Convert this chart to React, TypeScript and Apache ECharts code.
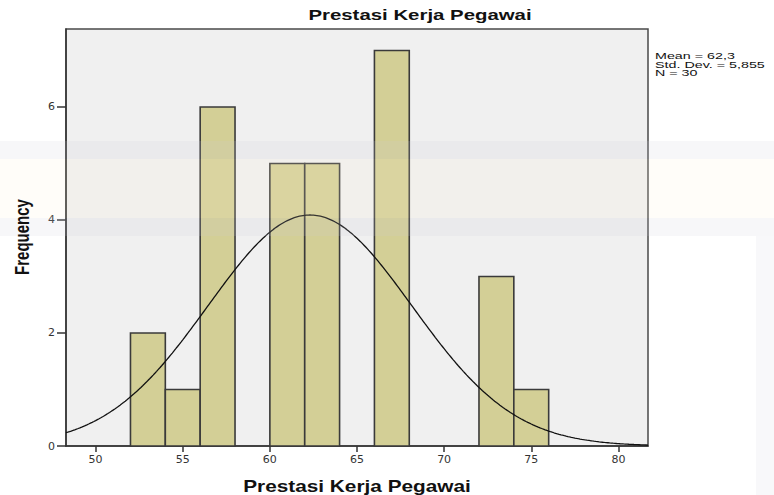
import React, { useEffect, useRef } from "react";
import * as echarts from "echarts";

const chartTitle = "Prestasi Kerja Pegawai";
const xAxisName = "Prestasi Kerja Pegawai";
const yAxisName = "Frequency";
const binStarts = [52, 54, 56, 58, 60, 62, 64, 66, 68, 70, 72, 74];
const binWidth = 2;
const frequencies = [2, 1, 6, 0, 5, 5, 0, 7, 0, 0, 3, 1];
const xTicks = [50, 55, 60, 65, 70, 75, 80];
const yTicks = [0, 2, 4, 6];
const mean = 62.3;
const stdDev = 5.855;
const nCount = 30;
const statLines = ["Mean = 62,3", "Std. Dev. = 5,855", "N = 30"];
const xMin = 48.3;
const xMax = 81.7;
const yMax = 7.38;

export default function App() {
  const ref = useRef<HTMLDivElement>(null);
  useEffect(() => {
    if (!ref.current) return;
    const chart = echarts.init(ref.current, null, { renderer: "svg" });

    const bars = binStarts
      .map((s, i) => [s, s + binWidth, frequencies[i]])
      .filter((d) => d[2] > 0);

    const curve: number[][] = [];
    const scale = (nCount * binWidth) / (stdDev * Math.sqrt(2 * Math.PI));
    for (let k = 0; k <= 334; k++) {
      const x = xMin + k * 0.1;
      const z = (x - mean) / stdDev;
      curve.push([x, scale * Math.exp(-0.5 * z * z)]);
    }

    const bandFill = "rgba(205,205,220,0.16)";
    chart.setOption({
      animation: false,
      backgroundColor: "#ffffff",
      grid: {
        left: 66,
        top: 29,
        right: 126,
        bottom: 49,
        show: true,
        backgroundColor: "#f0f0f0",
        borderColor: "#4a4a4a",
        borderWidth: 1.5,
      },
      xAxis: {
        type: "value",
        min: xMin,
        max: xMax,
        splitLine: { show: false },
        axisLine: { show: true, onZero: false, lineStyle: { color: "#333", width: 1.5 } },
        axisTick: { show: true, length: 6, customValues: xTicks, lineStyle: { color: "#333", width: 1.5 } },
        axisLabel: {
          customValues: xTicks,
          margin: 8,
          color: "#333",
          fontFamily: "DejaVu Sans",
          fontSize: 11,
        },
      },
      yAxis: {
        type: "value",
        min: 0,
        max: yMax,
        splitLine: { show: false },
        axisLine: { show: true, lineStyle: { color: "#333", width: 1.5 } },
        axisTick: { show: true, length: 9, customValues: yTicks, lineStyle: { color: "#333", width: 1.5 } },
        axisLabel: {
          customValues: yTicks,
          margin: 11,
          color: "#333",
          fontFamily: "DejaVu Sans",
          fontSize: 11,
        },
      },
      series: [
        {
          type: "custom",
          data: bars,
          encode: { x: [0, 1], y: 2 },
          z: 2,
          renderItem: (params: any, api: any) => {
            const p0 = api.coord([api.value(0), api.value(2)]);
            const p1 = api.coord([api.value(1), 0]);
            return {
              type: "rect",
              shape: { x: p0[0], y: p0[1], width: p1[0] - p0[0], height: p1[1] - p0[1] },
              style: { fill: "#d3cf96", stroke: "#3a3a3a", lineWidth: 1.6 },
            };
          },
        },
        {
          type: "line",
          data: curve,
          showSymbol: false,
          symbol: "none",
          z: 3,
          lineStyle: { color: "#111", width: 1.3 },
        },
      ],
      graphic: [
        { type: "rect", z: 100, shape: { x: 0, y: 141, width: 774, height: 18 }, style: { fill: bandFill } },
        { type: "rect", z: 100, shape: { x: 0, y: 159, width: 774, height: 59 }, style: { fill: "rgba(255,245,215,0.16)" } },
        { type: "rect", z: 100, shape: { x: 0, y: 218, width: 774, height: 18 }, style: { fill: bandFill } },
        { type: "rect", z: 100, shape: { x: 756, y: 236, width: 18, height: 259 }, style: { fill: "rgba(215,215,225,0.18)" } },
        {
          type: "text",
          z: 110,
          x: 420,
          y: 15,
          scaleX: 1.36,
          style: {
            text: chartTitle,
            font: "bold 15px 'Liberation Sans', Arial, sans-serif",
            fill: "#111",
            align: "center",
            verticalAlign: "middle",
          },
        },
        {
          type: "text",
          z: 110,
          x: 357,
          y: 486,
          scaleX: 1.3,
          style: {
            text: xAxisName,
            font: "bold 16px 'Liberation Sans', Arial, sans-serif",
            fill: "#111",
            align: "center",
            verticalAlign: "middle",
          },
        },
        {
          type: "text",
          z: 110,
          x: 22,
          y: 237,
          rotation: Math.PI / 2,
          scaleY: 1.3,
          style: {
            text: yAxisName,
            font: "bold 15px 'Liberation Sans', Arial, sans-serif",
            fill: "#111",
            align: "center",
            verticalAlign: "middle",
          },
        },
        ...statLines.map((t, i) => ({
          type: "text",
          z: 110,
          x: 655,
          y: 56 + i * 8.5,
          scaleX: 1.3,
          scaleY: 0.85,
          style: {
            text: t,
            font: "11px 'Liberation Sans', Arial, sans-serif",
            fill: "#111",
            align: "left",
            verticalAlign: "middle",
          },
        })),
      ],
    });
    return () => chart.dispose();
  }, []);
  return (
    <div
      ref={ref}
      style={{ position: "absolute", left: 0, top: 0, width: 774, height: 495 }}
    />
  );
}
